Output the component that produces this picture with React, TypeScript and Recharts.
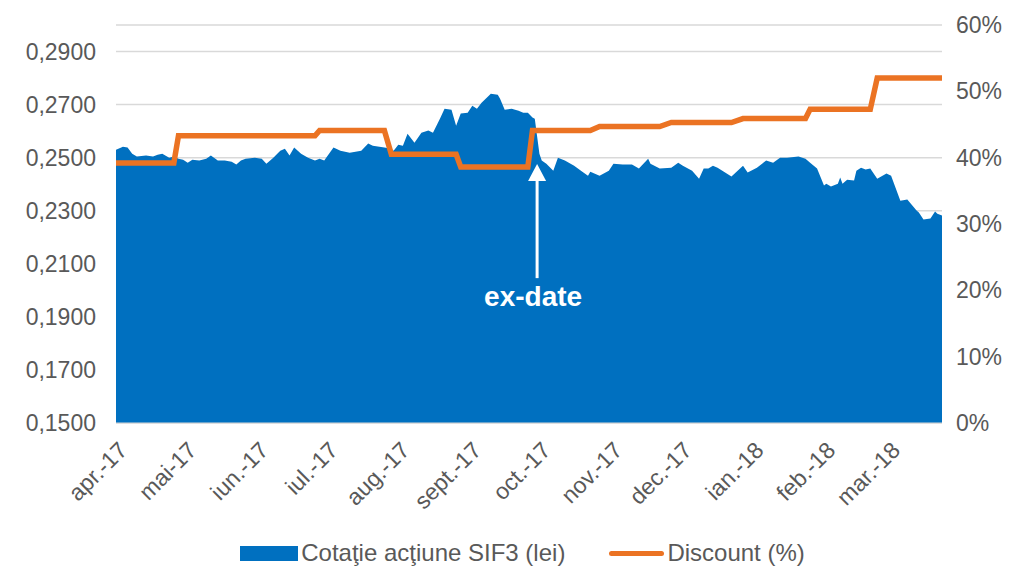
import { ComposedChart, CartesianGrid, XAxis, YAxis, Area, Line, ReferenceLine, ReferenceDot } from "recharts";

// days counted from 1 Apr 2017
const days = [
  0, 3, 5, 7, 9, 13, 16, 18, 20, 23, 25, 27, 29, 31, 33, 36, 39, 41, 44, 47,
  50, 52, 54, 56, 60, 63, 65, 68, 71, 73, 75, 77, 80, 83, 86, 88, 90, 94, 97, 101,
  106, 109, 111, 116, 119, 120, 122, 124, 126, 129, 132, 135, 137, 140, 142, 145, 147, 149, 152, 154,
  156, 158, 162, 165, 166, 168, 171, 174, 176, 178, 180, 181, 183, 184, 186, 189, 191, 194, 198, 202,
  204, 205, 209, 213, 215, 219, 223, 226, 230, 231, 235, 240, 243, 245, 249, 252, 254, 256, 258, 260,
  266, 271, 273, 277, 281, 284, 287, 290, 295, 298, 300, 303, 306, 307, 309, 312, 313, 314, 316, 319,
  320, 322, 324, 326, 329, 333, 335, 339, 342, 346, 347, 349, 352, 354, 355, 357,
];

const price = [
  0.2530, 0.2541, 0.2538, 0.2515, 0.2504, 0.2508, 0.2504, 0.2511, 0.2515, 0.2500, 0.2504, 0.2496, 0.2492, 0.2481, 0.2492, 0.2489, 0.2496, 0.2508, 0.2489, 0.2489,
  0.2485, 0.2474, 0.2489, 0.2496, 0.2500, 0.2496, 0.2477, 0.2500, 0.2526, 0.2534, 0.2508, 0.2538, 0.2515, 0.2500, 0.2489, 0.2496, 0.2489, 0.2538, 0.2526, 0.2519,
  0.2526, 0.2553, 0.2545, 0.2538, 0.2534, 0.2526, 0.2549, 0.2545, 0.2590, 0.2556, 0.2594, 0.2602, 0.2594, 0.2647, 0.2684, 0.2681, 0.2620, 0.2666, 0.2669, 0.2696,
  0.2684, 0.2707, 0.2741, 0.2737, 0.2722, 0.2681, 0.2684, 0.2677, 0.2669, 0.2669, 0.2651, 0.2647, 0.2515, 0.2489, 0.2477, 0.2451, 0.2500, 0.2489, 0.2470, 0.2444,
  0.2432, 0.2447, 0.2432, 0.2451, 0.2477, 0.2474, 0.2474, 0.2459, 0.2496, 0.2477, 0.2459, 0.2462, 0.2481, 0.2470, 0.2451, 0.2421, 0.2459, 0.2459, 0.2470, 0.2462,
  0.2429, 0.2470, 0.2444, 0.2462, 0.2489, 0.2481, 0.2500, 0.2500, 0.2504, 0.2496, 0.2481, 0.2459, 0.2395, 0.2402, 0.2391, 0.2402, 0.2425, 0.2402, 0.2417, 0.2414,
  0.2451, 0.2462, 0.2455, 0.2459, 0.2421, 0.2440, 0.2432, 0.2338, 0.2342, 0.2301, 0.2293, 0.2267, 0.2271, 0.2297, 0.2289, 0.2282,
];

// discount changes (day it takes effect, level in %)
const discountDays = [0, 27, 88, 119, 149, 180, 209, 240, 271, 300, 329];
const discountLevels = [39.2, 43.3, 44.1, 40.5, 38.6, 44.1, 44.7, 45.3, 45.9, 47.3, 52.0];

const monthDays = [0, 30, 61, 91, 122, 153, 183, 214, 244, 275, 306, 334];
const monthLabels = ["apr.-17", "mai-17", "iun.-17", "iul.-17", "aug.-17", "sept.-17", "oct.-17", "nov.-17", "dec.-17", "ian.-18", "feb.-18", "mar.-18"];

const leftTicks = [0.15, 0.17, 0.19, 0.21, 0.23, 0.25, 0.27, 0.29];
const rightTicks = [0, 10, 20, 30, 40, 50, 60];

const exDate = 182;

const discountAt = (d: number) => {
  let v = discountLevels[0];
  discountDays.forEach((s, i) => {
    if (d >= s) v = discountLevels[i];
  });
  return v;
};

const data = days.map((d, i) => ({ day: d, price: price[i], discount: discountAt(d) }));

const FONT = '"Liberation Sans", Arial, sans-serif';
const GREY = "#595959";
const BLUE = "#0070C0";
const ORANGE = "#EB7323";

const MonthTick = (props: any) => {
  const { x, y, payload } = props;
  const idx = monthDays.indexOf(payload.value);
  return (
    <g transform={`translate(${x + 7},${y + 15})`}>
      <text x={0} y={0} dy="0.35em" textAnchor="end" transform="rotate(-45)" fill={GREY} fontSize={23} fontFamily={FONT}>
        {monthLabels[idx]}
      </text>
    </g>
  );
};

export default function App() {
  return (
    <div style={{ position: "absolute", left: 0, top: 0, width: 1011, height: 569, background: "#fff", fontFamily: FONT }}>
      <ComposedChart width={1011} height={569} data={data} margin={{ top: 25, right: 0, left: 0, bottom: 0 }}>
        <CartesianGrid yAxisId="left" vertical={false} stroke="#D9D9D9" strokeWidth={1.5} />
        <XAxis
          dataKey="day"
          type="number"
          domain={[0, 357]}
          ticks={monthDays}
          interval={0}
          height={146}
          tickLine={false}
          axisLine={{ stroke: "#D9D9D9" }}
          tick={<MonthTick />}
        />
        <YAxis
          yAxisId="left"
          orientation="left"
          width={116}
          domain={[0.15, 0.3]}
          ticks={leftTicks}
          interval={0}
          tickLine={false}
          axisLine={false}
          tickSize={0}
          tickMargin={20}
          tickFormatter={(v: number) => v.toFixed(4).replace(".", ",")}
          tick={{ fill: GREY, fontSize: 23, fontFamily: FONT }}
        />
        <YAxis
          yAxisId="right"
          orientation="right"
          width={69}
          domain={[0, 60]}
          ticks={rightTicks}
          interval={0}
          tickLine={false}
          axisLine={false}
          tickSize={0}
          tickMargin={14}
          tickFormatter={(v: number) => `${v}%`}
          tick={{ fill: GREY, fontSize: 23, fontFamily: FONT, textAnchor: "start" }}
        />
        <Area
          yAxisId="left"
          type="linear"
          dataKey="price"
          fill={BLUE}
          fillOpacity={1}
          stroke="none"
          baseValue={0.15}
          isAnimationActive={false}
        />
        <Line
          yAxisId="right"
          type="linear"
          dataKey="discount"
          stroke={ORANGE}
          strokeWidth={5.5}
          dot={false}
          isAnimationActive={false}
        />
        <ReferenceLine
          yAxisId="left"
          segment={[{ x: exDate, y: 0.2046 }, { x: exDate, y: 0.2435 }]}
          stroke="#fff"
          strokeWidth={3}
        />
        <ReferenceDot
          yAxisId="left"
          x={exDate}
          y={0.2476}
          shape={(p: any) => (
            <path d={`M${p.cx},${p.cy} L${p.cx - 9},${p.cy + 17} L${p.cx + 9},${p.cy + 17} Z`} fill="#fff" />
          )}
        />
        <ReferenceDot
          yAxisId="left"
          x={exDate}
          y={0.1941}
          shape={(p: any) => (
            <text x={p.cx - 4} y={p.cy} textAnchor="middle" fill="#fff" fontSize={28} fontWeight="bold" fontFamily={FONT}>
              ex-date
            </text>
          )}
        />
      </ComposedChart>
      <div style={{ position: "absolute", top: 539, left: 0, width: 1011, paddingLeft: 34, boxSizing: "border-box", display: "flex", justifyContent: "center", alignItems: "center", fontSize: 24, color: GREY, whiteSpace: "nowrap" }}>
        <span style={{ display: "inline-block", width: 58, height: 15, background: BLUE, marginRight: 3 }} />
        <span style={{ marginRight: 44 }}>Cotaţie acţiune SIF3 (lei)</span>
        <span style={{ display: "inline-block", width: 55, height: 5, borderRadius: 3, background: ORANGE, marginRight: 3 }} />
        <span>Discount (%)</span>
      </div>
    </div>
  );
}
